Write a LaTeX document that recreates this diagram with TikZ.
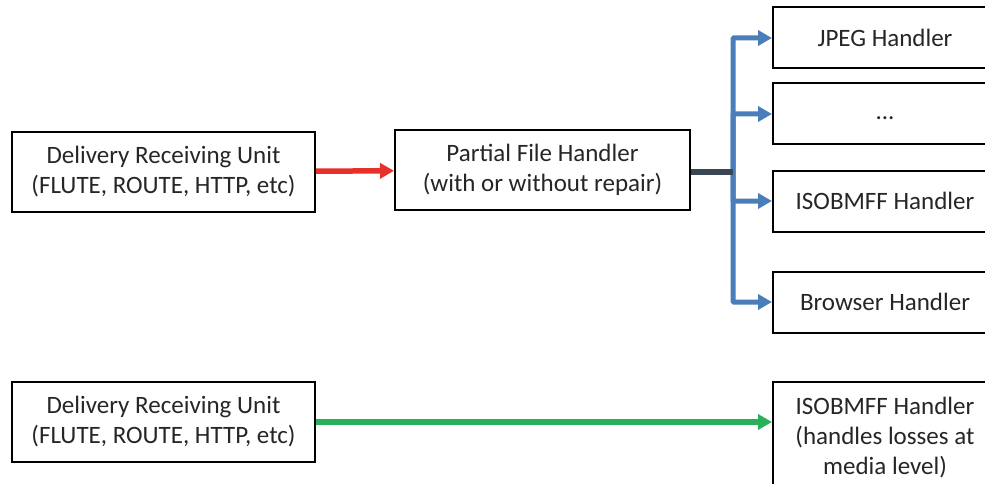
\documentclass[tikz,border=0pt]{standalone}
\usepackage{fontspec}
\setmainfont{Carlito}
\usetikzlibrary{arrows.meta, positioning}
\definecolor{arrowred}{HTML}{E8302A}
\definecolor{arrowblue}{HTML}{4A7EBB}
\definecolor{arrowgreen}{HTML}{2BB05A}
\definecolor{stemdark}{HTML}{3A4652}
\tikzset{
  unit/.style={draw=black, line width=2pt, fill=white, align=center, inner sep=2pt,
    font=\fontsize{25}{30}\selectfont, text=black!85},
  handler/.style={unit, minimum width=224pt, minimum height=61pt, anchor=west},
  flow/.style={line width=5.5pt, -{Triangle[length=14pt,width=15pt]}},
}
\begin{document}
\begin{tikzpicture}[x=1pt,y=-1pt]
\useasboundingbox (0,0) rectangle (985,484);
\clip (0,0) rectangle (985,484);
% upper path
\node[unit, minimum width=303pt, minimum height=80pt] (dru) at (163.5,172) {Delivery Receiving Unit\\(FLUTE, ROUTE, HTTP, etc)};
\node[unit, minimum width=295pt, minimum height=80pt] (pfh) at (542.5,170) {Partial File Handler\\(with or without repair)};
\node[handler] (jpeg) at (772,38) {JPEG Handler};
\node[handler] (dots) at (772,114) {\strut...};
\node[handler] (isobmff) at (772,201) {ISOBMFF Handler};
\node[handler] (browser) at (772,302) {Browser Handler};
\coordinate (split) at (733,172);
\draw[flow, arrowred] (dru) -- (pfh);
\foreach \target in {jpeg,dots,isobmff,browser} {
    \draw[flow, arrowblue, line width=5pt, rounded corners=1pt] (split) |- (\target.west);
}
\draw[line width=5.5pt, stemdark] (pfh.east |- split) -- (split);
% lower path
\node[unit, minimum width=303pt, minimum height=80pt] (drulow) at (163.5,422) {Delivery Receiving Unit\\(FLUTE, ROUTE, HTTP, etc)};
\node[unit, minimum width=224pt, minimum height=112pt, anchor=north west] (isolow) at (772,381) {ISOBMFF Handler\\(handles losses at\\media level)};
\draw[flow, arrowgreen] (drulow) -- (drulow.east -| isolow.west);
\end{tikzpicture}
\end{document}
